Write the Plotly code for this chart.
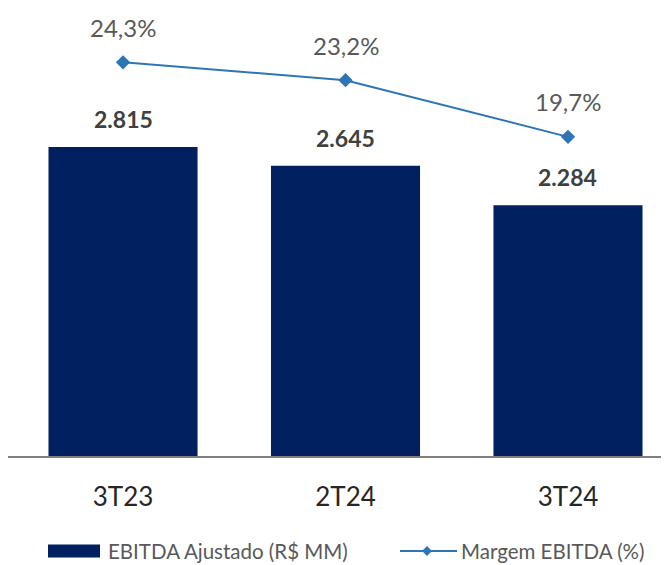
import plotly.graph_objects as go

categories = ["3T23", "2T24", "3T24"]
ebitda = [2815, 2645, 2284]
ebitda_labels = ["2.815", "2.645", "2.284"]
margem = [24.3, 23.2, 19.7]
margem_labels = ["24,3%", "23,2%", "19,7%"]
legend_names = ["EBITDA Ajustado (R$ MM)", "Margem EBITDA (%)"]

FONT = "Lato"
BAR_COLOR = "#002060"
LINE_COLOR = "#2E75B6"

# page body has an 8px default margin; figure sized to fit the window
W, H = 661, 557
L, R, T, B = 0, 0, 2, 109
plot_h = H - T - B
px_per_unit = 309 / 2815
y1max = plot_h / px_per_unit
y2max = plot_h / 16.2


def px_x(page_x):
    return (page_x - 8 - L) / (W - L - R)


def px_y(page_y):
    return (H - B - (page_y - 8)) / plot_h


fig = go.Figure()
fig.add_trace(go.Bar(
    x=categories, y=ebitda, name=legend_names[0],
    marker=dict(color=BAR_COLOR, line=dict(width=0)), width=0.67,
))
fig.add_trace(go.Scatter(
    x=categories, y=margem, name=legend_names[1], yaxis="y2",
    mode="lines+markers",
    line=dict(color=LINE_COLOR, width=2),
    marker=dict(symbol="diamond", size=11, color=LINE_COLOR),
))

annotations = []
for c, v, t in zip(categories, ebitda, ebitda_labels):
    annotations.append(dict(x=c, y=v, xref="x", yref="y", text="<b>%s</b>" % t,
                            showarrow=False, yshift=28,
                            font=dict(family=FONT, size=23, color="#404040")))
for c, v, t in zip(categories, margem, margem_labels):
    annotations.append(dict(x=c, y=v, xref="x", yref="y2", text=t,
                            showarrow=False, yshift=35,
                            font=dict(family=FONT, size=24, color="#595959")))

# custom legend
LEG_Y = 551
annotations.append(dict(x=px_x(106), y=px_y(LEG_Y), xref="paper", yref="paper",
                        text=legend_names[0], showarrow=False,
                        xanchor="left", yanchor="middle",
                        font=dict(family=FONT, size=20.5, color="#595959")))
annotations.append(dict(x=px_x(459), y=px_y(LEG_Y), xref="paper", yref="paper",
                        text=legend_names[1], showarrow=False,
                        xanchor="left", yanchor="middle",
                        font=dict(family=FONT, size=20.5, color="#595959")))

shapes = [
    dict(type="rect", xref="paper", yref="paper",
         x0=px_x(48), x1=px_x(100), y0=px_y(LEG_Y + 6.5), y1=px_y(LEG_Y - 6.5),
         fillcolor=BAR_COLOR, line=dict(width=0)),
    dict(type="line", xref="paper", yref="paper",
         x0=px_x(400), x1=px_x(457), y0=px_y(LEG_Y), y1=px_y(LEG_Y),
         line=dict(color=LINE_COLOR, width=2)),
    dict(type="path", xref="paper", yref="paper",
         path="M %f,%f L %f,%f L %f,%f L %f,%f Z" % (
             px_x(427), px_y(LEG_Y - 5), px_x(432), px_y(LEG_Y),
             px_x(427), px_y(LEG_Y + 5), px_x(422), px_y(LEG_Y)),
         fillcolor=LINE_COLOR, line=dict(width=0)),
]

fig.update_layout(
    width=W, height=H,
    margin=dict(l=L, r=R, t=T, b=B),
    paper_bgcolor="white", plot_bgcolor="white",
    showlegend=False,
    xaxis=dict(range=[-0.517, 2.454], showline=True, linecolor="#7f7f7f",
               linewidth=2, ticks="", showgrid=False,
               tickfont=dict(family=FONT, size=26, color="#262626"),
               ticklabelstandoff=17),
    yaxis=dict(range=[0, y1max], visible=False, showgrid=False),
    yaxis2=dict(range=[0, y2max], overlaying="y", visible=False, showgrid=False),
    annotations=annotations,
    shapes=shapes,
)

fig.write_html("out.html")
